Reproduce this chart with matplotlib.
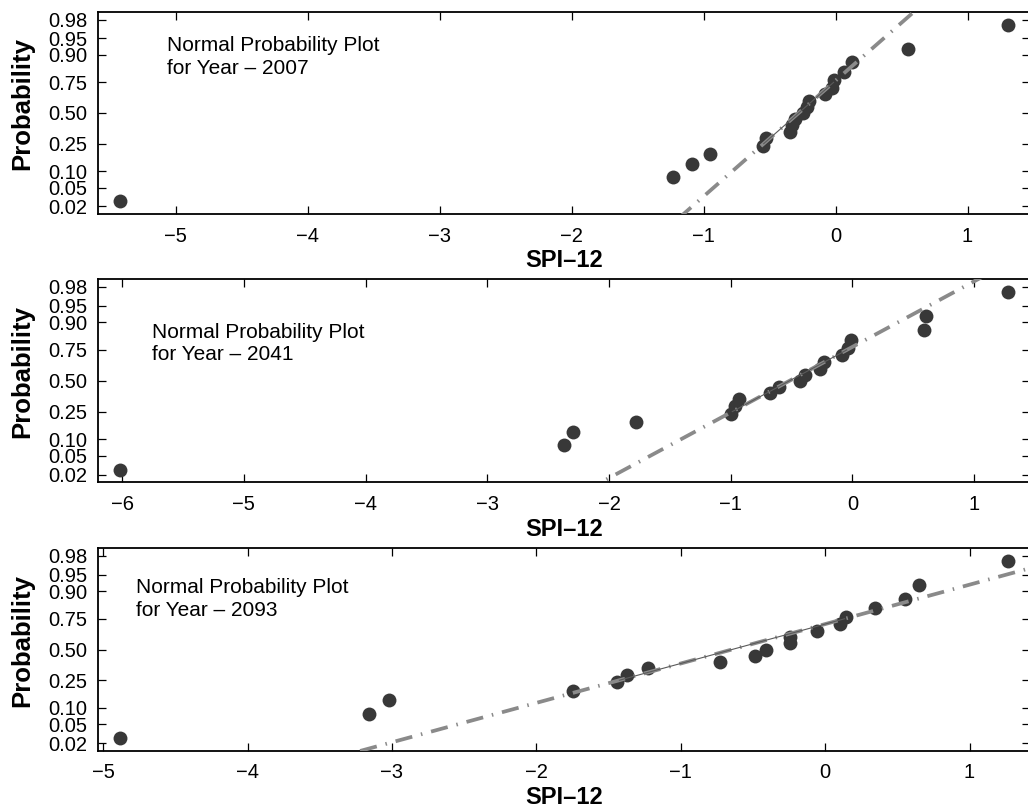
import matplotlib
matplotlib.use('Agg')
import matplotlib.pyplot as plt
from matplotlib.ticker import MultipleLocator, FixedLocator, FixedFormatter
import numpy as np
from statistics import NormalDist

plt.rcParams['font.family'] = ['Liberation Sans', 'DejaVu Sans']

# ---------------- data ----------------
years = ['2007', '2041', '2093']

spi_2007 = [-5.42, -1.235, -1.09, -0.955, -0.551, -0.525, -0.345, -0.33, -0.31,
            -0.25, -0.22, -0.20, -0.08, -0.03, -0.01, 0.065, 0.125, 0.548, 1.305]
spi_2041 = [-6.015, -2.372, -2.296, -1.78, -0.994, -0.967, -0.932, -0.674, -0.603,
            -0.433, -0.392, -0.269, -0.236, -0.082, -0.036, -0.008, 0.586, 0.60, 1.276]
spi_2093 = [-4.882, -3.156, -3.017, -1.743, -1.443, -1.371, -1.224, -0.727, -0.483,
            -0.413, -0.242, -0.240, -0.055, 0.104, 0.145, 0.346, 0.556, 0.648, 1.265]

# plotting-position probabilities of the sorted points
prob = [0.026, 0.079, 0.132, 0.184, 0.237, 0.289, 0.342, 0.395, 0.447, 0.500,
        0.553, 0.605, 0.658, 0.711, 0.763, 0.816, 0.868, 0.921, 0.974]

prob_ticks = [0.02, 0.05, 0.10, 0.25, 0.50, 0.75, 0.90, 0.95, 0.98]
prob_tick_labels = ['0.02', '0.05', '0.10', '0.25', '0.50', '0.75', '0.90', '0.95', '0.98']

series = [spi_2007, spi_2041, spi_2093]

# ---------------- layout ----------------
W, H = 1028, 808
fig = plt.figure(figsize=(W / 100, H / 100), dpi=100)

ax_px = [(12, 214), (279.3, 482.3), (548.3, 750.7)]   # top, bottom in pixels
left_px, right_px = 98, 1030
text_pos = [(0.0737, 0.777), (0.0582, 0.684), (0.0408, 0.749)]

nd = NormalDist()
z = lambda p: nd.inv_cdf(p)

marker_color = '#383838'
dash_color = '#8a8a8a'
thin_color = '#5a5a5a'

for i, (data, yr) in enumerate(zip(series, years)):
    top, bot = ax_px[i]
    ax = fig.add_axes([left_px / W, (H - bot) / H, (right_px - left_px) / W, (bot - top) / H])
    xs = np.sort(np.array(data))
    n = len(xs)
    zp = np.array([z(p) for p in prob])

    # x limits like MATLAB normplot
    rng = xs.max() - xs.min()
    xlo, xhi = xs.min() - 0.025 * rng, xs.max() + 0.025 * rng
    zlim = z(1 - 0.25 / n)

    ax.plot(xs, zp, 'o', color=marker_color, markersize=10, markeredgewidth=0, zorder=2)

    # reference line through the quartiles
    q1 = np.interp(0.25, prob, xs)
    q3 = np.interp(0.75, prob, xs)
    z1, z3 = z(0.25), z(0.75)
    slope = (z3 - z1) / (q3 - q1)
    xx = np.array([xlo, xhi])
    ax.plot(xx, z1 + slope * (xx - q1), color=dash_color, linewidth=2.7,
            linestyle=(0, (4.6, 2.4, 0.4, 2.4)), zorder=3)
    ax.plot([q1, q3], [z1, z3], color=thin_color, linewidth=0.8, zorder=3)

    ax.set_xlim(xlo, xhi)
    ax.set_ylim(-zlim, zlim)
    ax.xaxis.set_major_locator(MultipleLocator(1))
    ax.yaxis.set_major_locator(FixedLocator([z(p) for p in prob_ticks]))
    ax.yaxis.set_major_formatter(FixedFormatter(prob_tick_labels))
    ax.tick_params(direction='in', length=6, width=0.9, top=True, right=True,
                   labelsize=14.5, pad=7.5)
    ax.tick_params(axis='x', pad=9)
    for s in ax.spines.values():
        s.set_linewidth(1.3)

    ax.set_xlabel('SPI–12', fontsize=17, fontweight='bold', va='center')
    ax.xaxis.set_label_coords(0.5, -0.232)
    ax.set_ylabel('Probability', fontsize=18.5, fontweight='bold', va='center')
    ax.yaxis.set_label_coords(-0.0815, 0.545)

    ax.text(text_pos[i][0], text_pos[i][1],
            'Normal Probability Plot\nfor Year – ' + yr,
            transform=ax.transAxes, ha='left', va='center', fontsize=15, linespacing=1.25)

fig.savefig('out.png', dpi=100)
